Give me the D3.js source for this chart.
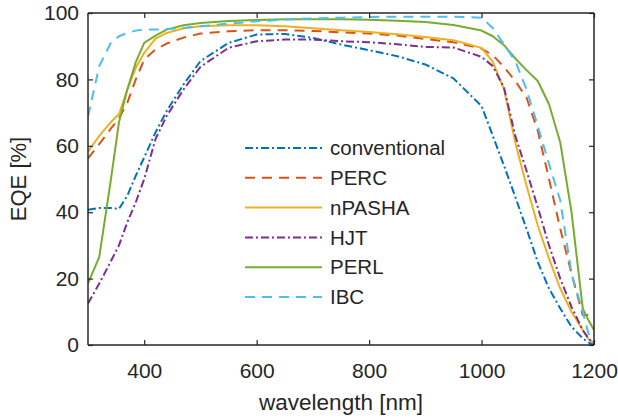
<!DOCTYPE html>
<html><head><meta charset="utf-8">
<script src="https://cdn.jsdelivr.net/npm/d3@7"></script>
<style>
body{margin:0;background:#fff;}
text{font-family:"Liberation Sans",Arial,Helvetica,sans-serif;fill:#262626;}
</style></head>
<body><svg id="c" width="618" height="420"></svg>
<script>
const wavelength = [300,320,340,355,370,385,400,420,440,470,500,550,600,650,700,750,800,850,900,950,1000,1020,1040,1060,1080,1100,1120,1140,1160,1180,1190,1200];
const conventional = [40.7,41.3,41.3,41.0,45,51,56.5,64,70.5,78.5,85.5,91,93.5,93.7,92.5,90.5,88.8,87,84.5,80.3,72,63,54,44.6,35,25,17,11,5.5,2,0.8,0];
const perc = [56.2,60.5,65,68.3,73,80,86,89,90.8,92.6,93.8,94.5,94.8,94.8,94.6,94.2,93.8,93.2,92.2,91.2,89.3,87.3,83.7,79.5,74.5,64.5,50,35,21.5,9,9,9];
const npasha = [58.2,63,67,69.5,77,83.5,88,92.3,94,95.4,96,96.3,96.3,96,95.4,94.8,94.3,93.6,92.8,91.8,89.5,85.3,77,61,48,36,26,17,10,4.5,1.8,0.5];
const hjt = [12.5,18.5,25,30,37,43,50,62,69,77,83.8,89.5,91.5,92,92,91.5,91.2,90.6,89.8,89.6,86.8,84,77.5,63,52.5,41.5,30,20,11.5,4.5,2,0.3];
const perl = [18.6,26.5,49,67,77,85.2,91,93.2,95,96.3,97,97.6,97.9,98.1,98.1,98.1,98,97.7,97.3,96.4,94.7,93,90.3,86.3,82.8,79.5,72.5,61,40,11,7.5,4.5];
const ibc = [68.8,84,90.8,93,94,94.7,95,95,95.2,95.5,96,96.8,97.5,98,98.4,98.6,98.8,98.9,98.9,98.9,98.6,95.5,90.5,85.5,77,66,54.5,43.5,21.5,10,3.5,0.5];
const seriesNames = ["conventional","PERC","nPASHA","HJT","PERL","IBC"];
const seriesColors = ["#0072BD","#D95319","#EDB120","#7E2F8E","#77AC30","#4DBEEE"];
const seriesDash = ["8,3,2,3","10,7","","8,3,2,3","","10,7"];
const xTicks = [400,600,800,1000,1200];
const yTicks = [0,20,40,60,80,100];

const series = [conventional,perc,npasha,hjt,perl,ibc];
const svg = d3.select("#c");
const m = {l:88,t:13,r:24,b:75};
const W = 618-m.l-m.r, H = 420-m.t-m.b;
const x = d3.scaleLinear().domain([300,1200]).range([m.l,m.l+W]);
const y = d3.scaleLinear().domain([0,100]).range([m.t+H,m.t]);

const g = svg.append("g");
const line = d3.line().x((d,i)=>x(wavelength[i])).y(d=>y(d));
const clip = svg.append("clipPath").attr("id","cp").append("rect")
  .attr("x",m.l).attr("y",m.t-2).attr("width",W+2).attr("height",H+4);
series.forEach((s,k)=>{
  g.append("path").datum(s).attr("d",line).attr("fill","none")
   .attr("stroke",seriesColors[k]).attr("stroke-width",2).attr("stroke-linejoin","round")
   .attr("stroke-dasharray",seriesDash[k]||null).attr("clip-path","url(#cp)");
});

// axes
const fs = 21;
const xa = svg.append("g").attr("transform",`translate(0,${m.t+H})`)
  .call(d3.axisBottom(x).tickValues(xTicks).tickSize(-5).tickPadding(18).tickFormat(d3.format("d")));
const xt = svg.append("g").attr("transform",`translate(0,${m.t})`)
  .call(d3.axisTop(x).tickValues(xTicks).tickSize(-5).tickFormat(""));
const ya = svg.append("g").attr("transform",`translate(${m.l},0)`)
  .call(d3.axisLeft(y).tickValues(yTicks).tickSize(-5).tickPadding(9).tickFormat(d3.format("d")));
const yr = svg.append("g").attr("transform",`translate(${m.l+W},0)`)
  .call(d3.axisRight(y).tickValues(yTicks).tickSize(-5).tickFormat(""));
[xa,xt,ya,yr].forEach(a=>{
  a.selectAll(".domain").attr("stroke","#262626").attr("stroke-width",1.5);
  a.selectAll(".tick line").attr("stroke","#262626").attr("stroke-width",1.2);
  a.selectAll("text").style("font-size",fs+"px").attr("fill","#262626").style("font-family",'"Liberation Sans",Arial,sans-serif');
});
xa.select(".domain").attr("d",`M${m.l},0H${m.l+W}`);
xt.select(".domain").attr("d",`M${m.l},0H${m.l+W}`);
ya.select(".domain").attr("d",`M0,${m.t}V${m.t+H}`);
yr.select(".domain").attr("d",`M0,${m.t}V${m.t+H}`);

svg.append("text").attr("x",x(750)).attr("y",410).attr("text-anchor","middle")
  .style("font-size","22.5px").text("wavelength [nm]");
svg.append("text").attr("transform",`translate(26,${y(50)}) rotate(-90)`).attr("text-anchor","middle")
  .style("font-size","22px").text("EQE [%]");

// legend
const lg = svg.append("g");
seriesNames.forEach((n,k)=>{
  const yy = 148 + k*29.8;
  lg.append("line").attr("x1",245).attr("x2",322).attr("y1",yy).attr("y2",yy)
    .attr("stroke",seriesColors[k]).attr("stroke-width",2).attr("stroke-dasharray",seriesDash[k]||null);
  lg.append("text").attr("x",330).attr("y",yy).attr("dy","0.35em").style("font-size","20.5px").text(n);
});
</script></body></html>
